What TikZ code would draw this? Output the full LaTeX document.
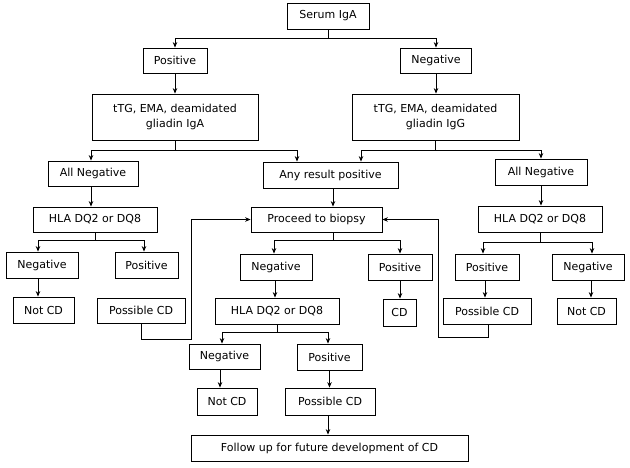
\documentclass[tikz,border=0pt]{standalone}
\usepackage{fontspec}
\setmainfont{DejaVu Sans}
\usetikzlibrary{arrows.meta}
\begin{document}
\begin{tikzpicture}[x=1pt,y=-1pt,
  box/.style={draw, line width=0.8pt, inner sep=0pt, align=center, font=\fontsize{11}{15}\selectfont},
  wh/.style 2 args={minimum width=#1pt, minimum height=#2pt},
  arr/.style={-{Stealth[length=5.5pt,width=4.5pt]}, line width=0.8pt},
  ln/.style={line width=0.8pt}]
\useasboundingbox[fill=white] (0,0) rectangle (630,468);
% nodes
\node[box, wh={82}{26}] (serum) at (328,16) {Serum IgA};
\node[box, wh={64}{25}] (pos1) at (175,60.5) {Positive};
\node[box, wh={71}{25}] (neg1) at (436,60.5) {Negative};
\node[box, wh={166}{46}] (tga) at (175,117) {tTG, EMA, deamidated\\gliadin IgA};
\node[box, wh={167}{46}] (tgg) at (435.5,117) {tTG, EMA, deamidated\\gliadin IgG};
\node[box, wh={90}{25}] (alln1) at (93,173.5) {All Negative};
\node[box, wh={135}{26}] (anypos) at (330.5,175) {Any result positive};
\node[box, wh={92}{26}] (alln2) at (541,172) {All Negative};
\node[box, wh={124}{25}] (hla1) at (95,219.5) {HLA DQ2 or DQ8};
\node[box, wh={131}{25}] (biopsy) at (316.5,219.5) {Proceed to biopsy};
\node[box, wh={124}{26}] (hla2) at (540,219) {HLA DQ2 or DQ8};
\node[box, wh={72}{26}] (neg2) at (42,265) {Negative};
\node[box, wh={63}{26}] (pos2) at (146.5,265) {Positive};
\node[box, wh={72}{26}] (negmid) at (276,267) {Negative};
\node[box, wh={64}{26}] (posmid) at (400,267) {Positive};
\node[box, wh={64}{26}] (posR) at (487,267) {Positive};
\node[box, wh={72}{26}] (negR) at (588,267) {Negative};
\node[box, wh={61}{26}] (notcd1) at (43.5,310) {Not CD};
\node[box, wh={88}{25}] (poss1) at (141,310.5) {Possible CD};
\node[box, wh={124}{26}] (hlamid) at (277,311) {HLA DQ2 or DQ8};
\node[box, wh={33}{27}] (cd) at (399.5,312.5) {CD};
\node[box, wh={88}{26}] (possR) at (487,311) {Possible CD};
\node[box, wh={59}{26}] (notcdR) at (586.5,311) {Not CD};
\node[box, wh={71}{25}] (neglow) at (224.5,356.5) {Negative};
\node[box, wh={65}{26}] (poslow) at (329.5,357) {Positive};
\node[box, wh={60}{27}] (notcdlow) at (227,401.5) {Not CD};
\node[box, wh={90}{27}] (posslow) at (330,401.5) {Possible CD};
\node[box, wh={277}{26}] (follow) at (329.5,448) {Follow up for future development of CD};
% junctions
\coordinate (j1) at (328,38);
\coordinate (j2) at (175,150);
\coordinate (j3) at (435.5,150);
\coordinate (j4) at (95,240);
\coordinate (j5) at (333,240);
\coordinate (j6) at (277,332);
\coordinate (j7) at (540,242);
\coordinate (l1) at (191,339);
\coordinate (l2) at (438,337);
% shifted anchors
\coordinate (a1) at ([xshift=-2pt]alln1.south);
\coordinate (a2) at ([xshift=2.5pt]anypos.south);
\coordinate (a3) at ([xshift=-4pt]neg2.south);
\coordinate (a4) at ([xshift=16.5pt]biopsy.south);
\coordinate (a5) at ([xshift=-1pt]negmid.south);
\coordinate (a6) at ([xshift=-4.5pt]neglow.south);
\coordinate (a7) at ([xshift=-2pt]posslow.south);
\coordinate (a8) at ([xshift=-2pt]posR.south);
\coordinate (a9) at ([xshift=3pt]negR.south);
\coordinate (a10) at ([xshift=1pt]possR.south);
% connectors
\draw[ln] (serum.south) -- (j1);
\draw[arr] (j1) -| (pos1.north);
\draw[arr] (j1) -| (neg1.north);
\draw[arr] (pos1.south) -- (tga.north);
\draw[arr] (neg1.south) -- (neg1.south |- tgg.north);
\draw[ln] (tga.south) -- (j2);
\draw[arr] (j2) -| ([xshift=-2pt]alln1.north);
\draw[arr] (j2) -| ([xshift=-33.5pt]anypos.north);
\draw[ln] (tgg.south) -- (j3);
\draw[arr] (j3) -| ([xshift=30.5pt]anypos.north);
\draw[arr] (j3) -| (alln2.north);
\draw[arr] (a1) -- (a1 |- hla1.north);
\draw[arr] (a2) -- (a2 |- biopsy.north);
\draw[arr] (alln2.south) -- (alln2.south |- hla2.north);
\draw[ln] (hla1.south) -- (j4);
\draw[arr] (j4) -| ([xshift=-4pt]neg2.north);
\draw[arr] (j4) -| ([xshift=-2.5pt]pos2.north);
\draw[arr] (a3) -- (a3 |- notcd1.north);
\draw[arr] (poss1.south) |- (l1) |- (biopsy.west);
\draw[ln] (a4) -- (j5);
\draw[arr] (j5) -| ([xshift=-2pt]negmid.north);
\draw[arr] (j5) -| (posmid.north);
\draw[arr] (a5) -- (a5 |- hlamid.north);
\draw[arr] (posmid.south) -- (posmid.south |- cd.north);
\draw[ln] (hlamid.south) -- (j6);
\draw[arr] (j6) -| ([xshift=-2.5pt]neglow.north);
\draw[arr] (j6) -| ([xshift=-1.5pt]poslow.north);
\draw[arr] (a6) -- (a6 |- notcdlow.north);
\draw[arr] (poslow.south) -- (poslow.south |- posslow.north);
\draw[arr] (a7) -- (a7 |- follow.north);
\draw[ln] (hla2.south) -- (j7);
\draw[arr] (j7) -| ([xshift=-4pt]posR.north);
\draw[arr] (j7) -| ([xshift=4pt]negR.north);
\draw[arr] (a8) -- (a8 |- possR.north);
\draw[arr] (a9) -- (a9 |- notcdR.north);
\draw[arr] (a10) |- (l2) |- (biopsy.east);
\end{tikzpicture}
\end{document}
